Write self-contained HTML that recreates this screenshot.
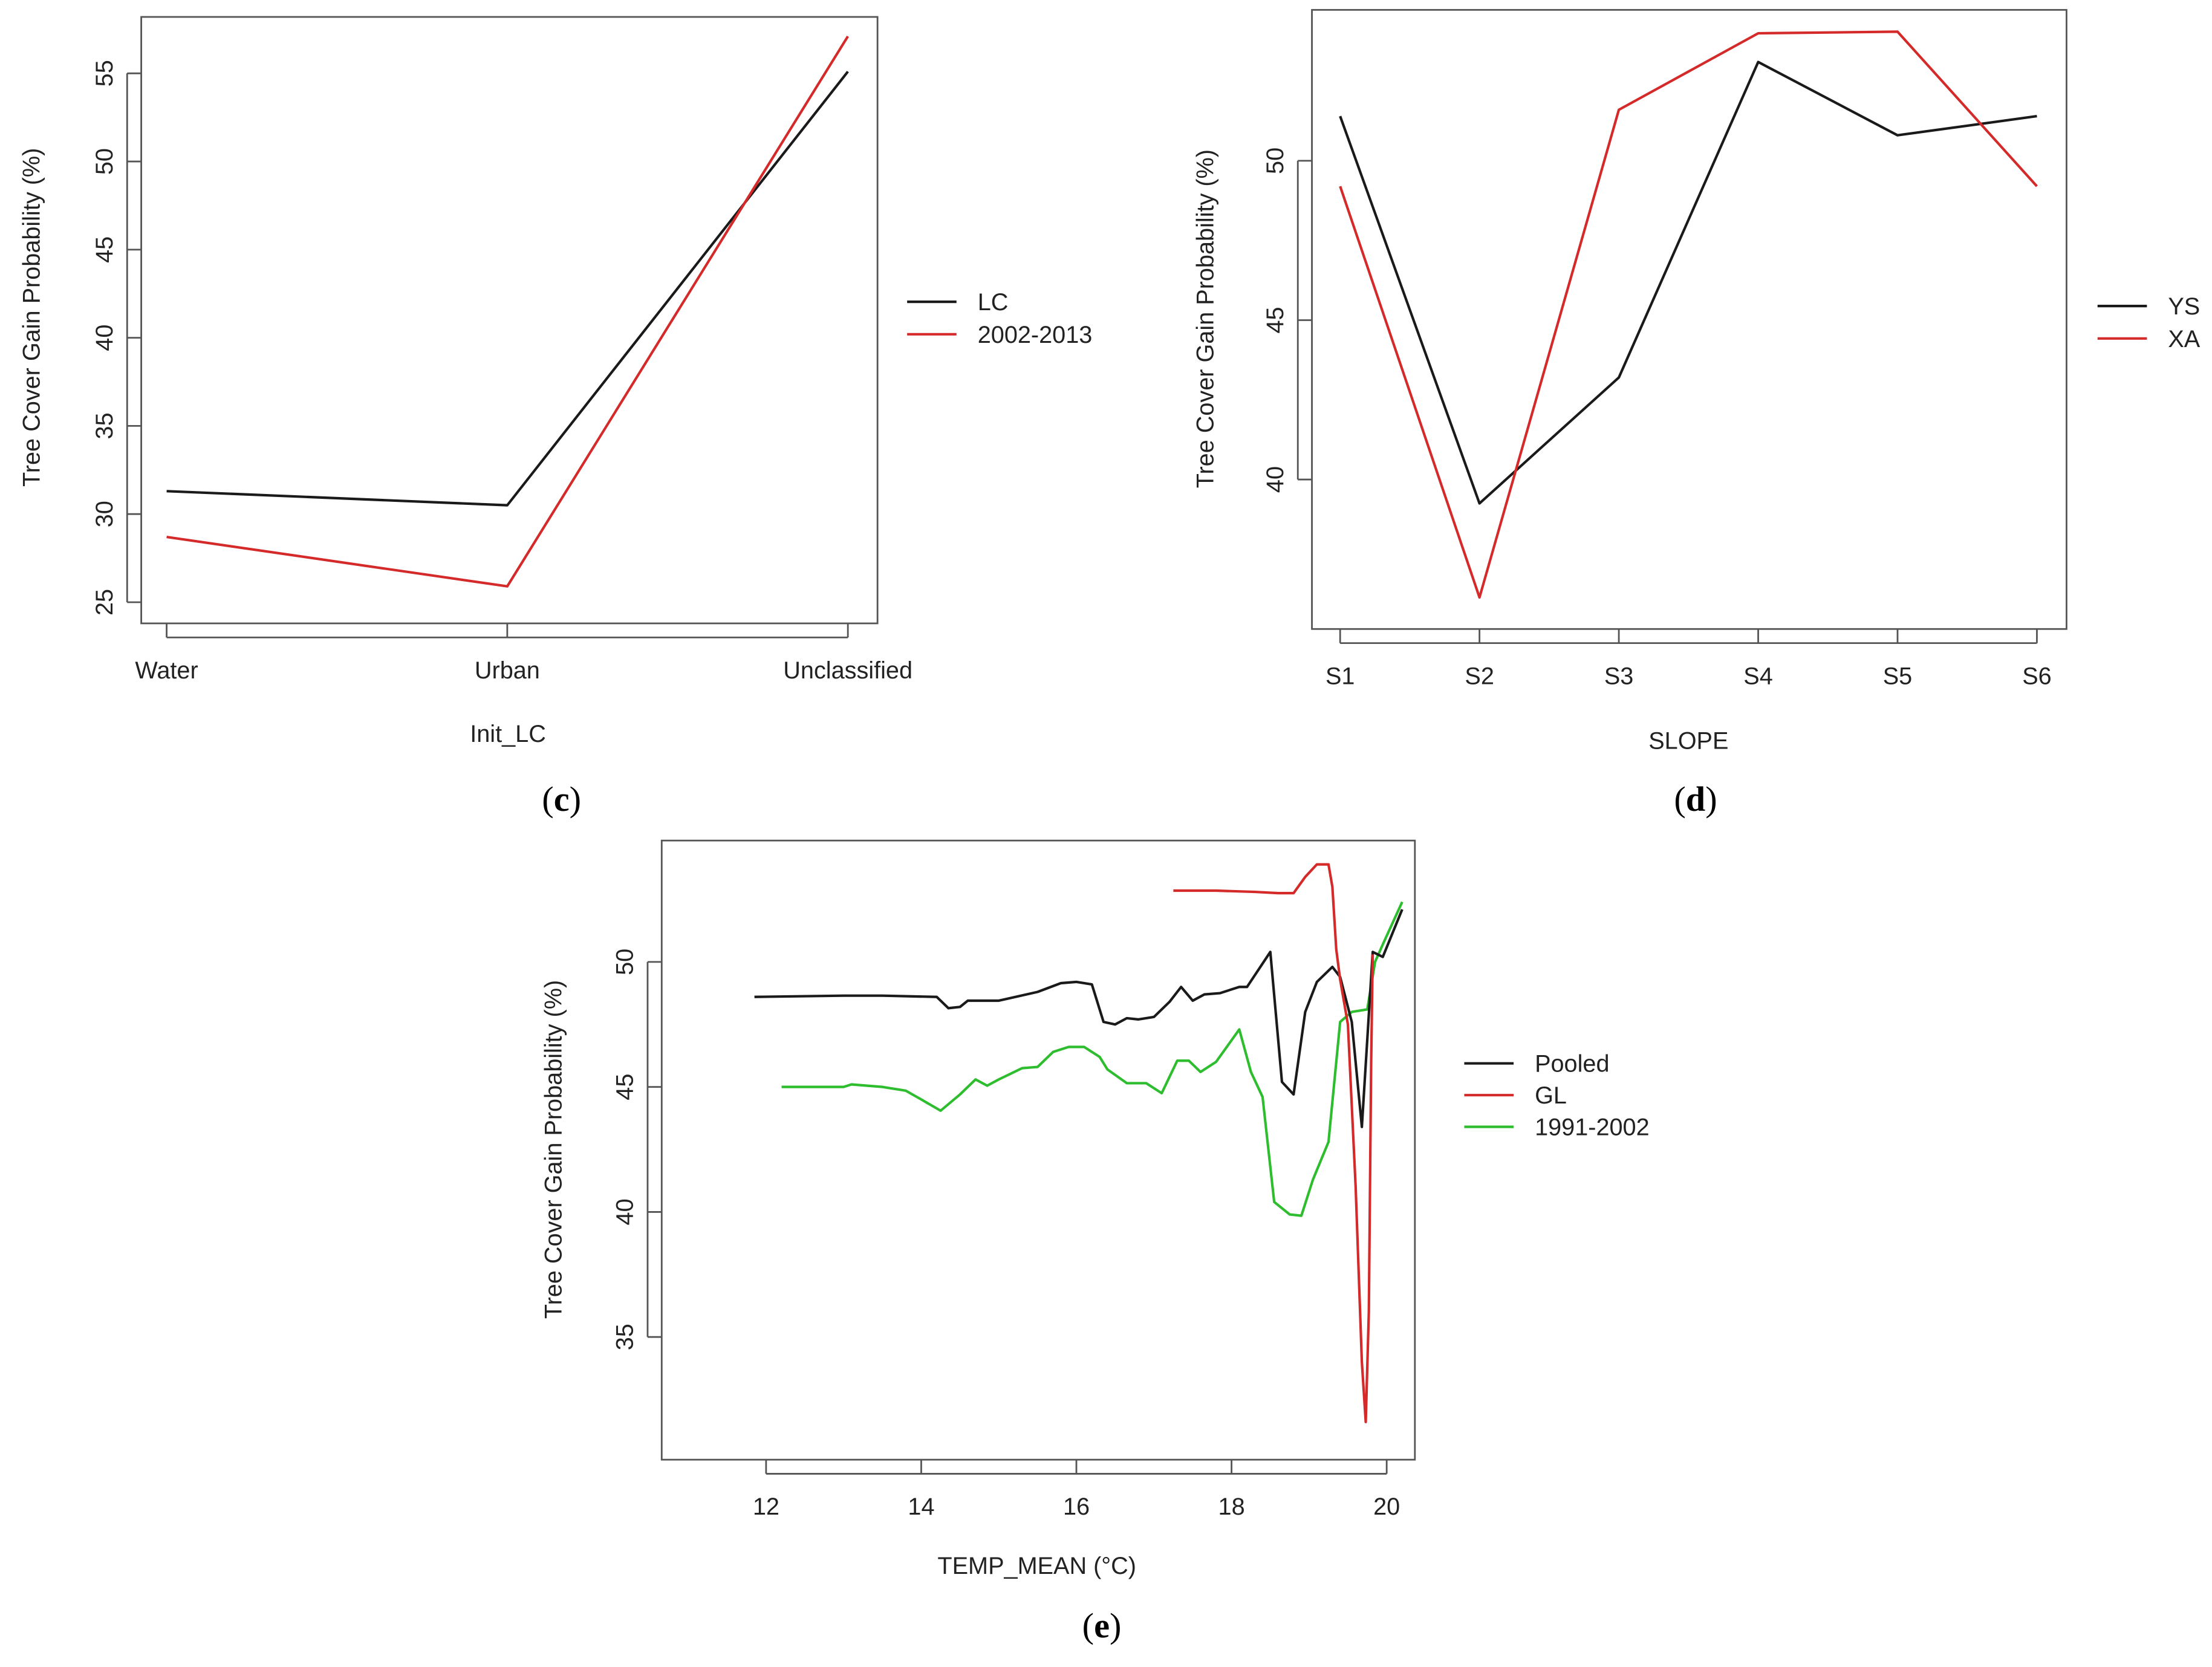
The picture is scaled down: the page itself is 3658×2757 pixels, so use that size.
<!DOCTYPE html>
<html><head><meta charset="utf-8"><style>
html,body{margin:0;padding:0;background:#fff}
svg{display:block}
text{font-family:"Liberation Sans",sans-serif;fill:#222}
.cap{font-family:"Liberation Serif",serif;font-size:25px;fill:#000}
</style></head><body>
<svg id="fig" width="3658" height="2757" viewBox="0 0 1568 1182" xmlns="http://www.w3.org/2000/svg"></svg>
<script>
// Panel c data
const cCats = ["Water","Urban","Unclassified"];
const cLC = [31.3, 30.5, 55.1];
const c0213 = [28.7, 25.9, 57.1];
const cTicks = [25,30,35,40,45,50,55];
// Panel d data
const dCats = ["S1","S2","S3","S4","S5","S6"];
const dYS = [51.4, 39.25, 43.2, 53.1, 50.8, 51.4];
const dXA = [49.2, 36.3, 51.6, 54.0, 54.05, 49.2];
const dTicks = [40,45,50];
// Panel e data
const ePooledX = [11.85,13,13.5,14.2,14.35,14.5,14.6,15,15.5,15.8,16,16.2,16.35,16.5,16.65,16.8,17,17.2,17.35,17.5,17.65,17.85,18.1,18.2,18.5,18.65,18.8,18.95,19.1,19.3,19.4,19.55,19.68,19.82,19.95,20.2];
const ePooledY = [48.6,48.65,48.65,48.6,48.15,48.2,48.45,48.45,48.8,49.15,49.2,49.1,47.6,47.5,47.75,47.7,47.8,48.4,49.0,48.45,48.7,48.75,49.0,49.0,50.4,45.2,44.7,48.0,49.2,49.8,49.4,47.6,43.4,50.4,50.2,52.1];
const eGLX = [17.25,17.8,18.3,18.6,18.8,18.95,19.1,19.25,19.3,19.35,19.4,19.5,19.6,19.68,19.73,19.77,19.8,19.82];
const eGLY = [52.85,52.85,52.8,52.75,52.75,53.4,53.9,53.9,53.0,50.5,49.3,47.5,41.0,34.0,31.6,36.0,46.0,50.3];
const eGreenX = [12.2,13,13.1,13.5,13.8,14,14.25,14.5,14.7,14.85,15,15.3,15.5,15.7,15.9,16.1,16.3,16.4,16.65,16.9,17.1,17.3,17.45,17.6,17.8,18.1,18.25,18.4,18.55,18.75,18.9,19.05,19.25,19.4,19.55,19.75,19.85,19.95,20.2];
const eGreenY = [45.0,45.0,45.1,45.0,44.85,44.5,44.05,44.7,45.3,45.05,45.3,45.75,45.8,46.4,46.6,46.6,46.2,45.7,45.15,45.15,44.75,46.05,46.05,45.6,46.0,47.3,45.6,44.6,40.4,39.9,39.85,41.3,42.8,47.6,48.0,48.1,50.0,50.7,52.4];
const eXTicks = [12,14,16,18,20];
const eYTicks = [35,40,45,50];

const svg = document.getElementById('fig');
const NS = "http://www.w3.org/2000/svg";
function mk(tag, attrs, parent){const e=document.createElementNS(NS,tag);for(const k in attrs)e.setAttribute(k,attrs[k]);(parent||svg).appendChild(e);return e;}
function txt(s,attrs,parent){const t=mk('text',attrs,parent);t.textContent=s;return t;}
function poly(xs,ys,sx,sy,color,g){return mk('polyline',{points:xs.map((x,i)=>sx(x)+','+sy(ys[i])).join(' '),fill:'none',stroke:color,'stroke-width':1.8,'stroke-linejoin':'round'},g);}

function panel(name,box,sx,sy,yTicks,xTicks,xLabel,xTitle,xTitlePos,yTitlePos,series,legend,cap){
  const g=mk('g',{});
  
  
  const r=mk('rect',{x:box[0],y:box[1],width:box[2]-box[0],height:box[3]-box[1],fill:'none',stroke:'#555','stroke-width':1.2},g);
  
  
  yTicks.forEach(v=>{
    const y=sy(v);
    mk('line',{x1:box[0]-10,x2:box[0],y1:y,y2:y,stroke:'#555','stroke-width':1.2},g);
    const t=txt(String(v),{x:box[0]-26,y:y,'font-size':17,'text-anchor':'middle',transform:`rotate(-90 ${box[0]-26} ${y})`,'dominant-baseline':'central'},g);
    
    
  });
  const ya=mk('line',{x1:box[0]-10,x2:box[0]-10,y1:sy(yTicks[0]),y2:sy(yTicks[yTicks.length-1]),stroke:'#555','stroke-width':1.2},g);
  
  
  xTicks.forEach((v,i)=>{
    const x=sx(v);
    mk('line',{x1:x,x2:x,y1:box[3],y2:box[3]+10,stroke:'#555','stroke-width':1.2},g);
    const t=txt(xLabel(v,i),{x:x,y:box[3]+39,'font-size':17,'text-anchor':'middle'},g);
    
    
  });
  const xa=mk('line',{x1:sx(xTicks[0]),x2:sx(xTicks[xTicks.length-1]),y1:box[3]+10,y2:box[3]+10,stroke:'#555','stroke-width':1.2},g);
  
  
  const xt=txt(xTitle,{x:xTitlePos[0],y:xTitlePos[1],'font-size':17,'text-anchor':'middle'},g);
  
  
  const yt=txt('Tree Cover Gain Probability (%)',{x:yTitlePos[0],y:yTitlePos[1],'font-size':17,'text-anchor':'middle',transform:`rotate(-90 ${yTitlePos[0]} ${yTitlePos[1]})`},g);
  
  
  series.forEach(s=>{
    const p=poly(s.x,s.y,sx,sy,s.c,g);
    
    
  });
  legend.items.forEach((it,i)=>{
    const y=legend.y0+i*legend.dy;
    const l=mk('line',{x1:legend.x0,x2:legend.x0+35,y1:y,y2:y,stroke:it.c,'stroke-width':1.8},g);
    
    
    const t=txt(it.n,{x:legend.x0+50,y:y+6,'font-size':17},g);
    
    
  });
  const c=txt('',{x:cap[0],y:cap[1],'text-anchor':'middle'},g);
  c.setAttribute('class','cap');
  c.innerHTML='(<tspan font-weight="bold">'+cap[2]+'</tspan>)';
  
  
}

const BLK='#1a1a1a', RED='#d42a2a', GRN='#2ebd2e';
// Panel c
{
  const sx=i=>118+i*241.5, sy=v=>427-(v-25)*12.5;
  const idx=cCats.map((_,i)=>i);
  panel('panel-c',[100,12,622,442],sx,sy,cTicks,idx,(v,i)=>cCats[i],'Init_LC',[360,526],[28,225],
    [{n:'LC',x:idx,y:cLC,c:BLK},{n:'2002-2013',x:idx,y:c0213,c:RED}],
    {x0:643,y0:214,dy:23,items:[{n:'LC',c:BLK},{n:'2002-2013',c:RED}]},[398,575,'c']);
}
// Panel d
{
  const sx=i=>950+i*98.8, sy=v=>340-(v-40)*22.6;
  const idx=dCats.map((_,i)=>i);
  panel('panel-d',[930,7,1465,446],sx,sy,dTicks,idx,(v,i)=>dCats[i],'SLOPE',[1197,531],[860,226],
    [{n:'YS',x:idx,y:dYS,c:BLK},{n:'XA',x:idx,y:dXA,c:RED}],
    {x0:1487,y0:217,dy:23,items:[{n:'YS',c:BLK},{n:'XA',c:RED}]},[1202,575,'d']);
}
// Panel e
{
  const sx=v=>543+(v-12)*55, sy=v=>948-(v-35)*17.73;
  panel('panel-e',[469,596,1003,1035],sx,sy,eYTicks,eXTicks,v=>String(v),'TEMP_MEAN (\u00B0C)',[735,1116],[398,815],
    [{n:'1991-2002',x:eGreenX,y:eGreenY,c:GRN},{n:'Pooled',x:ePooledX,y:ePooledY,c:BLK},{n:'GL',x:eGLX,y:eGLY,c:RED}],
    {x0:1038,y0:754,dy:22.5,items:[{n:'Pooled',c:BLK},{n:'GL',c:RED},{n:'1991-2002',c:GRN}]},[781,1161,'e']);
}
</script>
</body></html>
